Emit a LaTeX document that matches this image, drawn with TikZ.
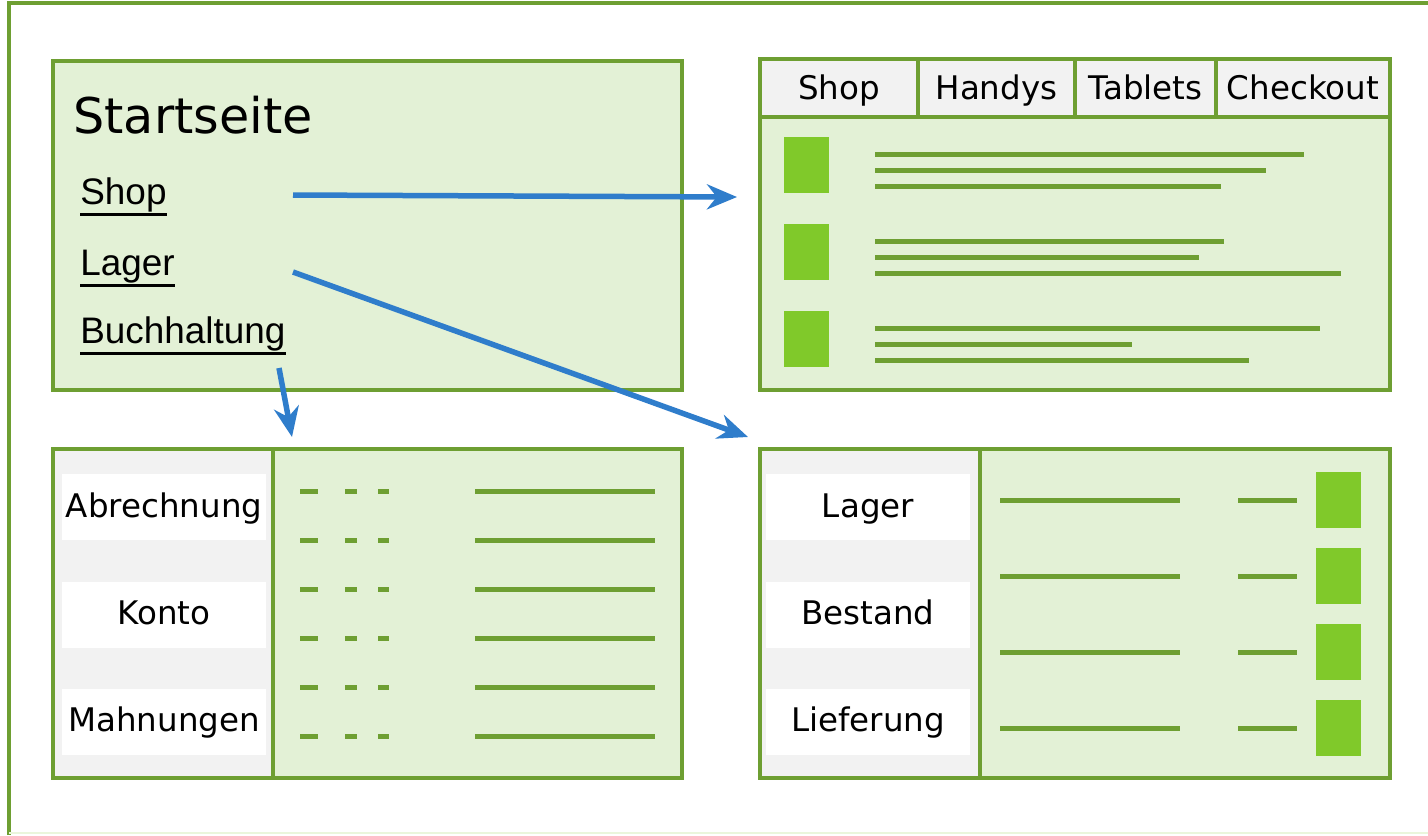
\documentclass[tikz,border=0pt]{standalone}
\usepackage{fontspec}
\setmainfont{DejaVu Sans}
\newfontfamily\linkfont{Liberation Sans}
\usetikzlibrary{arrows.meta}
\definecolor{pagegreen}{HTML}{6E9F32}
\definecolor{panelfill}{HTML}{E3F1D6}
\definecolor{tabgray}{HTML}{F2F2F2}
\definecolor{itemgreen}{HTML}{80C92A}
\definecolor{linkblue}{HTML}{2F7DCB}
\definecolor{faintgreen}{HTML}{EAF6DC}
\tikzset{
  panel/.style={draw=pagegreen,line width=0.7mm,fill=panelfill},
  frameline/.style={draw=pagegreen,line width=0.7mm},
  tabcell/.style={draw=pagegreen,line width=0.7mm,fill=tabgray,minimum height=11.6mm,inner sep=0pt,text height=13.5pt,text depth=0pt,font=\fontsize{18.5}{20}\selectfont},
  menuitem/.style={fill=white,minimum width=40.8mm,minimum height=13.2mm,inner sep=0pt,text height=13.5pt,text depth=2pt,font=\fontsize{18.5}{20}\selectfont},
  textline/.style={draw=pagegreen,line width=1mm},
  thumb/.style={fill=itemgreen},
  link/.style={anchor=base west,inner sep=0pt,font=\linkfont\fontsize{21}{24}\selectfont},
  underl/.style={line width=0.55mm},
  jump/.style={draw=linkblue,line width=1.1mm,-{Stealth[length=6mm,width=5mm]}},
}
\begin{document}
\begin{tikzpicture}[x=0.2mm,y=-0.2mm]
\useasboundingbox (0,0) rectangle (1428,835);
% page frame
\draw[pagegreen,line width=0.8mm] (9,835)--(9,3)--(1428,3);
\draw[faintgreen,line width=0.5mm] (9,833)--(1428,833);

% start page
\draw[panel] (53,61) rectangle (682,390);
\node[anchor=base west,inner sep=0pt,font=\fontsize{28}{32}\selectfont] (title) at (73,133) {Startseite};
\node[link] (shoplink) at (80,204) {Shop};
\node[link] (lagerlink) at (80,275) {Lager};
\node[link] (buchlink) at (80,343) {Buchhaltung};
\foreach \l in {shoplink,lagerlink,buchlink}
  \draw[underl] ([yshift=-0.5mm]\l.south west)--([yshift=-0.5mm]\l.south east);

% shop page
\draw[panel] (760,59) rectangle (1390,390);
\node[tabcell,minimum width=31.6mm] (tabshop) at (839,88) {Shop};
\node[tabcell,minimum width=31.4mm] (tabhandys) at (996.5,88) {Handys};
\node[tabcell,minimum width=28.2mm] (tabtablets) at (1145.5,88) {Tablets};
\node[tabcell,minimum width=34.8mm] (tabcheckout) at (1303,88) {Checkout};
\foreach \t/\a/\b/\c in {137/1304/1266/1221,224/1224/1199/1341,311/1320/1132/1249}{
  \fill[thumb] (784,\t) rectangle (829,\t+56);
  \draw[textline] (875,\t+17)--(\a,\t+17) (875,\t+33)--(\b,\t+33) (875,\t+49)--(\c,\t+49);
}

% accounting page
\fill[panelfill] (53,449) rectangle (682,778);
\fill[tabgray] (53,449) rectangle (273,778);
\draw[frameline] (53,449) rectangle (682,778) (273,449)--(273,778);
\node[menuitem] (abrechnung) at (164,507) {Abrechnung};
\node[menuitem] (konto) at (164,614.5) {Konto};
\node[menuitem] (mahnungen) at (164,721.5) {Mahnungen};
\foreach \y in {491,540,589,638,687,736}{
  \draw[textline] (300,\y)--(318,\y) (345,\y)--(357,\y) (378,\y)--(389,\y) (475,\y)--(655,\y);
}

% stock page
\fill[panelfill] (760,449) rectangle (1390,778);
\fill[tabgray] (760,449) rectangle (980,778);
\draw[frameline] (760,449) rectangle (1390,778) (980,449)--(980,778);
\node[menuitem] (lager) at (868,507) {Lager};
\node[menuitem] (bestand) at (868,614.5) {Bestand};
\node[menuitem] (lieferung) at (868,721.5) {Lieferung};
\foreach \y/\t in {500/472,576/548,652/624,728/700}{
  \draw[textline] (1000,\y)--(1180,\y) (1238,\y)--(1297,\y);
  \fill[thumb] (1316,\t) rectangle (1361,\t+56);
}

% links
\coordinate (shopfrom) at (293,195);
\coordinate (shopto) at (737,197);
\coordinate (lagerfrom) at (293,272);
\coordinate (lagerto) at (748,437);
\coordinate (buchfrom) at (279,368);
\coordinate (buchto) at (292,437);
\draw[jump] (shopfrom)--(shopto);
\draw[jump] (lagerfrom)--(lagerto);
\draw[jump] (buchfrom)--(buchto);
\end{tikzpicture}
\end{document}
